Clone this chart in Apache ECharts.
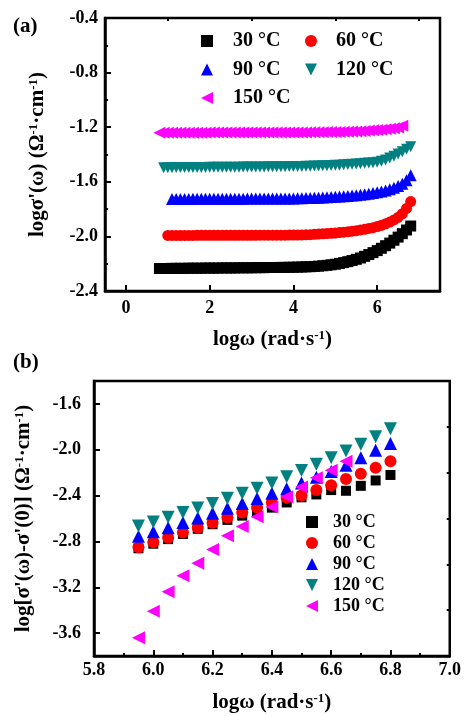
<!DOCTYPE html>
<html>
<head>
<meta charset="utf-8">
<script src="https://cdn.jsdelivr.net/npm/echarts@6/dist/echarts.min.js"></script>
<style>
  html, body { margin: 0; padding: 0; background: #fff; }
  #main { width: 464px; height: 716px; }
</style>
</head>
<body>
<div id="main"></div>
<script>
// (a) logσ'(ω) vs logω, 5 temperatures
const names = ['30 °C', '60 °C', '90 °C', '120 °C', '150 °C'];
const colors = ['#000000', '#ff0000', '#0000ff', '#008080', '#ff00ff'];
const symbols = ['rect', 'circle', 'path://M5,0 L10,10 L0,10 Z', 'path://M0,0 L10,0 L5,10 Z', 'path://M10,0 L10,10 L0,5 Z'];

const logW = [0.8, 0.9, 1.0, 1.1, 1.2, 1.3, 1.4, 1.5, 1.6, 1.7, 1.8, 1.9, 2.0, 2.1, 2.2, 2.3, 2.4, 2.5, 2.6, 2.7,
  2.8, 2.9, 3.0, 3.1, 3.2, 3.3, 3.4, 3.5, 3.6, 3.7, 3.8, 3.9, 4.0, 4.1, 4.2, 4.3, 4.4, 4.5, 4.6, 4.7,
  4.8, 4.9, 5.0, 5.1, 5.2, 5.3, 5.4, 5.5, 5.6, 5.7, 5.8, 5.9, 6.0, 6.1, 6.2, 6.3, 6.4, 6.5, 6.6, 6.7, 6.8];

const sig30 = [-2.235, -2.235, -2.235, -2.234, -2.234, -2.234, -2.234, -2.233, -2.233, -2.233, -2.233, -2.232, -2.232, -2.232, -2.232, -2.231, -2.231, -2.231, -2.231, -2.230,
  -2.230, -2.230, -2.230, -2.229, -2.229, -2.229, -2.228, -2.228, -2.228, -2.227, -2.227, -2.226, -2.226, -2.225, -2.224, -2.223, -2.222, -2.220, -2.218, -2.215,
  -2.212, -2.208, -2.204, -2.198, -2.192, -2.185, -2.177, -2.168, -2.158, -2.146, -2.133, -2.119, -2.104, -2.087, -2.068, -2.049, -2.028, -2.005, -1.980, -1.953, -1.924];
const sig60 = [null, null, -1.993, -1.993, -1.993, -1.993, -1.993, -1.993, -1.993, -1.992, -1.992, -1.992, -1.992, -1.992, -1.992, -1.992, -1.992, -1.992, -1.992, -1.992,
  -1.992, -1.992, -1.992, -1.992, -1.991, -1.991, -1.991, -1.991, -1.991, -1.991, -1.991, -1.990, -1.990, -1.990, -1.989, -1.988, -1.987, -1.985, -1.983, -1.981,
  -1.979, -1.977, -1.975, -1.972, -1.969, -1.966, -1.962, -1.958, -1.953, -1.948, -1.942, -1.936, -1.928, -1.919, -1.908, -1.895, -1.879, -1.860, -1.834, -1.795, -1.745];
const sig90 = [null, null, null, -1.726, -1.726, -1.726, -1.726, -1.726, -1.725, -1.725, -1.725, -1.725, -1.725, -1.725, -1.724, -1.724, -1.724, -1.724, -1.724, -1.724,
  -1.724, -1.723, -1.723, -1.723, -1.723, -1.723, -1.723, -1.722, -1.722, -1.722, -1.722, -1.722, -1.722, -1.721, -1.720, -1.719, -1.718, -1.717, -1.716, -1.715,
  -1.713, -1.712, -1.710, -1.708, -1.706, -1.704, -1.701, -1.698, -1.695, -1.691, -1.687, -1.682, -1.677, -1.671, -1.664, -1.655, -1.644, -1.631, -1.614, -1.589, -1.552];
const sig120 = [null, -1.497, -1.497, -1.497, -1.496, -1.496, -1.496, -1.496, -1.495, -1.495, -1.495, -1.495, -1.494, -1.494, -1.494, -1.494, -1.493, -1.493, -1.493, -1.493,
  -1.492, -1.492, -1.492, -1.491, -1.491, -1.491, -1.490, -1.490, -1.490, -1.489, -1.489, -1.488, -1.488, -1.487, -1.487, -1.486, -1.486, -1.485, -1.484, -1.483,
  -1.482, -1.481, -1.479, -1.478, -1.476, -1.474, -1.472, -1.470, -1.468, -1.465, -1.463, -1.461, -1.456, -1.449, -1.440, -1.426, -1.412, -1.396, -1.379, -1.362, -1.343];
const sig150 = [-1.240, -1.240, -1.240, -1.240, -1.240, -1.240, -1.240, -1.240, -1.240, -1.240, -1.240, -1.240, -1.239, -1.239, -1.239, -1.239, -1.239, -1.239, -1.239, -1.239,
  -1.239, -1.239, -1.239, -1.239, -1.239, -1.239, -1.239, -1.238, -1.238, -1.238, -1.238, -1.238, -1.238, -1.238, -1.238, -1.238, -1.237, -1.237, -1.237, -1.237,
  -1.236, -1.236, -1.236, -1.235, -1.234, -1.233, -1.232, -1.231, -1.229, -1.227, -1.225, -1.223, -1.221, -1.218, -1.215, -1.212, -1.208, -1.203, -1.190, null, null];

// (b) log[σ'(ω)-σ'(0)] vs logω
const logWb = [5.95, 6.00, 6.05, 6.10, 6.15, 6.20, 6.25, 6.30, 6.35, 6.40, 6.45, 6.50, 6.55, 6.60, 6.65, 6.70, 6.75, 6.80];
const dif30 = [-2.86, -2.82, -2.78, -2.735, -2.69, -2.65, -2.612, -2.575, -2.545, -2.505, -2.46, -2.415, -2.39, -2.352, -2.358, -2.315, -2.268, -2.22];
const dif60 = [-2.85, -2.808, -2.767, -2.723, -2.68, -2.638, -2.592, -2.548, -2.505, -2.461, -2.42, -2.40, -2.352, -2.31, -2.256, -2.21, -2.158, -2.10];
const dif90 = [-2.755, -2.715, -2.68, -2.635, -2.595, -2.555, -2.51, -2.47, -2.425, -2.38, -2.34, -2.29, -2.24, -2.19, -2.135, -2.07, -2.005, -1.945];
const dif120 = [-2.665, -2.63, -2.59, -2.548, -2.508, -2.47, -2.424, -2.38, -2.335, -2.29, -2.235, -2.18, -2.127, -2.07, -2.01, -1.952, -1.887, -1.817];
const dif150 = [-3.64, -3.41, -3.24, -3.10, -2.99, -2.87, -2.75, -2.67, -2.585, -2.50, -2.41, -2.325, -2.245, -2.178, -2.10, null, null, null];

const xTicksA = [0, 2, 4, 6];
const xMinorA = [1, 3, 5, 7];
const yTicksB = [-3.6, -3.2, -2.8, -2.4, -2.0, -1.6];
const yMinorB = [-3.4, -3.0, -2.6, -2.2, -1.8];

const FONT = '"Liberation Serif", "Times New Roman", serif';
const sup = { fontSize: 13, fontWeight: 'bold', fontFamily: FONT, verticalAlign: 'top' };

function pairs(xs, ys) {
  const out = [];
  ys.forEach((y, i) => { if (y !== null) out.push([xs[i], y]); });
  return out;
}

const chart = echarts.init(document.getElementById('main'));

const axisLine = { show: true, onZero: false, lineStyle: { color: '#000', width: 2.5 } };
const labelStyle = { color: '#000', fontSize: 18, fontWeight: 'bold', fontFamily: FONT };
const nameStyle = { color: '#000', fontSize: 21, fontWeight: 'bold', fontFamily: FONT, rich: { sup: sup } };

const sizesA = [11, 11, 12, 11, 12];
const sizesB = [10, 12, 13, 13, 13];

const seriesA = [sig30, sig60, sig90, sig120, sig150].map((ys, i) => ({
  name: names[i], type: 'scatter', xAxisIndex: 0, yAxisIndex: 0,
  symbol: symbols[i], symbolSize: sizesA[i],
  itemStyle: { color: colors[i], opacity: 1 }, data: pairs(logW, ys)
}));
const seriesB = [dif30, dif60, dif90, dif120, dif150].map((ys, i) => ({
  name: names[i], type: 'scatter', xAxisIndex: 2, yAxisIndex: 1,
  symbol: symbols[i], symbolSize: sizesB[i],
  itemStyle: { color: colors[i], opacity: 1 }, data: pairs(logWb, ys)
}));

const legendText = { color: '#000', fontWeight: 'bold', fontFamily: FONT };

chart.setOption({
  animation: false,
  backgroundColor: '#fff',
  grid: [
    { left: 105, top: 18, width: 335, height: 273, show: true, borderColor: '#000', borderWidth: 2.5 },
    { left: 94, top: 381, width: 357, height: 275, show: true, borderColor: '#000', borderWidth: 2.5 }
  ],
  xAxis: [
    {
      type: 'value', gridIndex: 0, min: -0.5, max: 7.5,
      axisLine: axisLine, splitLine: { show: false },
      axisTick: { inside: true, length: 6, lineStyle: { width: 2 }, customValues: xTicksA },
      axisLabel: Object.assign({ margin: 8, customValues: xTicksA }, labelStyle),
      name: 'logω (rad·s{sup|-1})', nameLocation: 'middle', nameGap: 38, nameTextStyle: nameStyle
    },
    {
      type: 'value', gridIndex: 0, min: -0.5, max: 7.5,
      axisLine: { show: false }, splitLine: { show: false },
      axisTick: { inside: true, length: 3, lineStyle: { width: 2, color: '#000' }, customValues: xMinorA },
      axisLabel: { show: false }
    },
    {
      type: 'value', gridIndex: 1, min: 5.8, max: 7.0, interval: 0.2,
      axisLine: axisLine, splitLine: { show: false },
      axisTick: { inside: true, length: 6, lineStyle: { width: 2 } },
      minorTick: { show: true, splitNumber: 2, length: 3, lineStyle: { width: 2, color: '#000' } },
      axisLabel: Object.assign({ margin: 5, formatter: v => v.toFixed(1) }, labelStyle),
      name: 'logω (rad·s{sup|-1})', nameLocation: 'middle', nameGap: 36, nameTextStyle: nameStyle
    }
  ],
  yAxis: [
    {
      type: 'value', gridIndex: 0, min: -2.4, max: -0.4, interval: 0.4,
      axisLine: axisLine, splitLine: { show: false },
      axisTick: { inside: true, length: 6, lineStyle: { width: 2 } },
      minorTick: { show: true, splitNumber: 2, length: 3, lineStyle: { width: 2, color: '#000' } },
      axisLabel: Object.assign({ margin: 7, formatter: v => v.toFixed(1) }, labelStyle),
      name: "logσ'(ω) (Ω{sup|-1}·cm{sup|-1})", nameLocation: 'middle', nameRotate: 90, nameGap: 57,
      nameTextStyle: nameStyle
    },
    {
      type: 'value', gridIndex: 1, min: -3.8, max: -1.4,
      axisLine: axisLine, splitLine: { show: false },
      axisTick: { inside: true, length: 6, lineStyle: { width: 2 }, customValues: yTicksB },
      axisLabel: Object.assign({ margin: 13, customValues: yTicksB, formatter: v => v.toFixed(1) }, labelStyle),
      name: "log[σ'(ω)-σ'(0)] (Ω{sup|-1}·cm{sup|-1})", nameLocation: 'middle', nameRotate: 90, nameGap: 60,
      nameTextStyle: nameStyle
    },
    {
      type: 'value', gridIndex: 1, min: -3.8, max: -1.4,
      axisLine: { show: false }, splitLine: { show: false },
      axisTick: { inside: true, length: 3, lineStyle: { width: 2, color: '#000' }, customValues: yMinorB },
      axisLabel: { show: false }
    }
  ],
  legend: [
    {
      orient: 'vertical', left: 201, top: 31, padding: 0, itemGap: 8.5,
      itemWidth: 12, itemHeight: 12, selectedMode: false,
      data: ['30 °C', '90 °C', '150 °C'],
      textStyle: Object.assign({ fontSize: 20, padding: [0, 0, 0, 15] }, legendText)
    },
    {
      orient: 'vertical', left: 305, top: 31, padding: 0, itemGap: 8.5,
      itemWidth: 12, itemHeight: 12, selectedMode: false,
      data: ['60 °C', '120 °C'],
      textStyle: Object.assign({ fontSize: 20, padding: [0, 0, 0, 14] }, legendText)
    },
    {
      orient: 'vertical', left: 306, top: 513, padding: 0, itemGap: 3,
      itemWidth: 12, itemHeight: 12, selectedMode: false,
      data: names,
      textStyle: Object.assign({ fontSize: 18, padding: [0, 0, 0, 10] }, legendText)
    }
  ],
  graphic: [
    { type: 'text', left: 13, top: 16, style: { text: '(a)', font: 'bold 21px ' + FONT, fill: '#000' } },
    { type: 'text', left: 13, top: 352, style: { text: '(b)', font: 'bold 21px ' + FONT, fill: '#000' } }
  ],
  series: seriesA.concat(seriesB)
});
</script>
</body>
</html>
